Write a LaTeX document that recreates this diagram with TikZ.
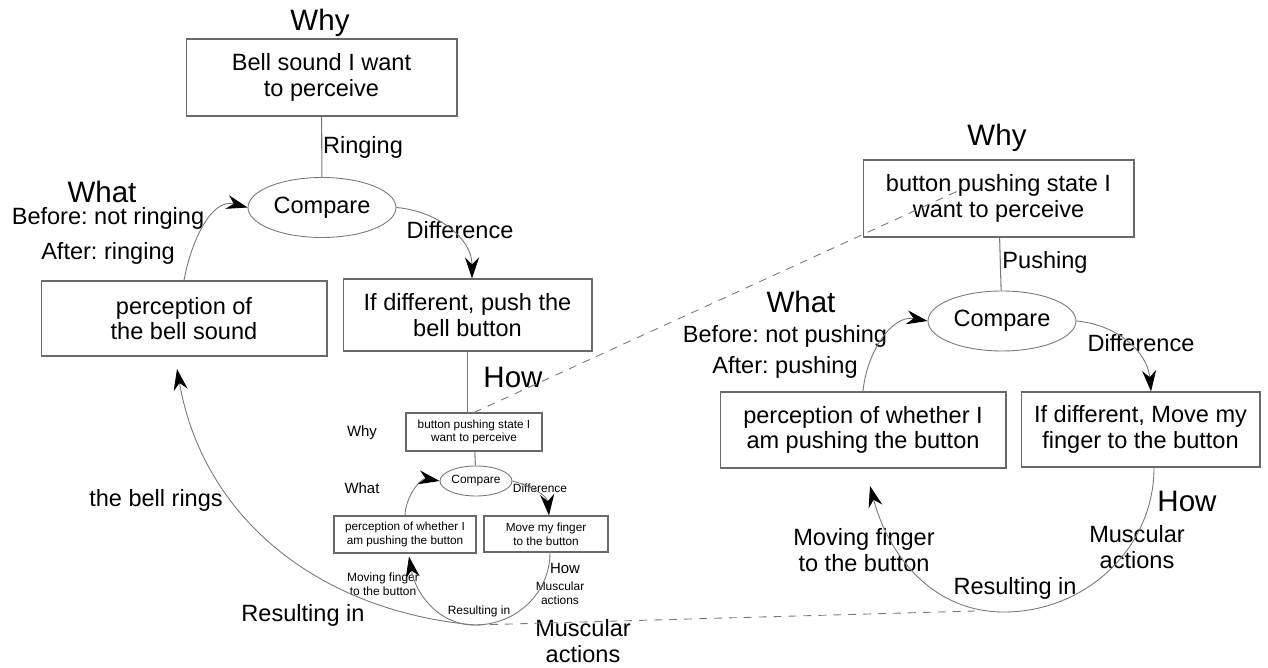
\documentclass[tikz,border=0pt]{standalone}
\usepackage{fontspec}
\setmainfont{Liberation Sans}
\usepackage{xcolor}
\usepackage{tikz}
\usetikzlibrary{shapes.geometric, arrows.meta, positioning, calc}
\frenchspacing
\definecolor{lineGray}{RGB}{120, 120, 120}
\definecolor{boxGray}{RGB}{105, 105, 105}
\tikzset{
  goalbox/.style={
    rectangle, draw=boxGray, line width=0.6pt,
    minimum width=5.42cm, minimum height=1.54cm,
    inner sep=0pt, align=center,
    font=\fontsize{13.4}{14.5}\selectfont
  },
  cmpnode/.style={
    ellipse, draw=lineGray, line width=0.5pt,
    minimum width=2.96cm, minimum height=1.2cm,
    inner sep=0pt, font=\fontsize{13.4}{14.5}\selectfont
  },
  minibox/.style={
    rectangle, draw=boxGray, line width=0.6pt,
    inner sep=0pt, align=center,
    font=\fontsize{6.7}{7.9}\selectfont
  },
  minicmp/.style={
    ellipse, draw=lineGray, line width=0.5pt,
    minimum width=1.44cm, minimum height=0.6cm,
    inner sep=0pt, font=\fontsize{6.8}{8}\selectfont
  },
  biglbl/.style={inner sep=0pt, font=\fontsize{16.8}{18}\selectfont},
  lbl/.style={inner sep=0pt, align=center, font=\fontsize{13.4}{14.8}\selectfont},
  minilbl/.style={inner sep=0pt, font=\fontsize{8.5}{9}\selectfont},
  tinylbl/.style={inner sep=0pt, align=center, font=\fontsize{6.8}{7.9}\selectfont},
  plainline/.style={draw=lineGray, line width=0.6pt},
  flow/.style={
    draw=lineGray, line width=0.5pt,
    -{Stealth[length=12pt, width=8pt, color=black]}
  },
  dashlink/.style={draw=lineGray, line width=0.5pt, dash pattern=on 4.5pt off 4pt}
}

\begin{document}
\begin{tikzpicture}[x=0.02cm, y=0.02cm]
  \useasboundingbox (0,0) rectangle (1268,-668);

  \node[goalbox] (lwant) at (321.5,-77.5) {Bell sound I want\\to perceive};
  \node[cmpnode] (lcmp) at (322,-207.5) {Compare};
  \node[goalbox, minimum width=5.72cm, minimum height=1.5cm] (lperc) at (184,-318.5) {perception of\\the bell sound};
  \node[goalbox, minimum width=4.98cm, minimum height=1.44cm] (lpush) at (467.5,-315) {If different, push the\\bell button};
  \coordinate (ltip) at (177,-369);

  \node[biglbl] (lwhy) at (320,-23) {Why};
  \node[lbl] (lring) at (363,-147) {Ringing};
  \node[biglbl] (lwhat) at (102,-192) {What};
  \node[lbl, font=\fontsize{13.4}{19.5}\selectfont] (lstate) at (108,-236) {Before: not ringing\\After: ringing};
  \node[lbl] (ldiff) at (460,-230) {Difference};
  \node[biglbl] (lhow) at (513,-377) {How};
  \node[lbl] (lrings) at (156,-500) {the bell rings};
  \node[lbl] (lresult) at (303,-615) {Resulting in};
  \node[lbl] (lmusc) at (583,-641) {Muscular\\actions};

  \node[minibox, minimum width=2.72cm, minimum height=0.76cm] (swant) at (474,-432) {button pushing state I\\want to perceive};
  \node[minicmp] (scmp) at (476,-481) {Compare};
  \node[minibox, minimum width=2.84cm, minimum height=0.74cm] (sperc) at (405,-534.5) {perception of whether I\\am pushing the button};
  \node[minibox, minimum width=2.48cm, minimum height=0.72cm] (smove) at (546,-534) {Move my finger\\to the button};
  \coordinate (sbot) at (475,-625);

  \node[minilbl] (swhy) at (362,-433) {Why};
  \node[minilbl] (swhat) at (362,-488) {What};
  \node[tinylbl] (sdiff) at (540,-488) {Difference};
  \node[minilbl] (show) at (565,-568) {How};
  \node[tinylbl] (smusc) at (560,-593) {Muscular\\actions};
  \node[tinylbl] (smoving) at (383,-584) {Moving finger\\to the button};
  \node[tinylbl] (sresult) at (479,-611) {Resulting in};

  \node[goalbox] (rwant) at (998.5,-198.5) {button pushing state I\\want to perceive};
  \node[cmpnode] (rcmp) at (1002,-321) {Compare};
  \node[goalbox, minimum width=5.72cm, minimum height=1.52cm] (rperc) at (863,-430) {perception of whether I\\am pushing the button};
  \node[goalbox, minimum width=4.78cm, minimum height=1.5cm] (rmove) at (1140.5,-429.5) {If different, Move my\\finger to the button};
  \coordinate (rbot) at (1004,-612);
  \coordinate (rtip) at (870,-486);
  \coordinate (rcross) at (960,-190);
  \coordinate (rfoot) at (975,-611);

  \node[biglbl] (rwhy) at (997,-138) {Why};
  \node[lbl] (rpush) at (1045,-262) {Pushing};
  \node[biglbl] (rwhat) at (801,-302) {What};
  \node[lbl, font=\fontsize{13.4}{17.5}\selectfont] (rstate) at (785,-352) {Before: not pushing\\After: pushing};
  \node[lbl] (rdiff) at (1141,-343) {Difference};
  \node[biglbl] (rhow) at (1187,-501) {How};
  \node[lbl] (rmusc) at (1137,-547) {Muscular\\actions};
  \node[lbl] (rresult) at (1015,-588) {Resulting in};
  \node[lbl] (rmoving) at (864,-550) {Moving finger\\to the button};

  \draw[plainline] (lwant) -- (lcmp);
  \draw[flow] (lperc.north) to[out=80, in=165] (lcmp.west);
  \draw[flow] (lcmp.east) to[out=-5, in=90] ([xshift=0.09cm]lpush.north);
  \draw[plainline] (lpush.south) -- (lpush.south |- swant.north);

  \draw[plainline] (swant) -- (scmp);
  \draw[flow] (sperc.north) to[out=88, in=170] (scmp.west);
  \draw[flow] (scmp.east) to[out=-15, in=95] ([xshift=0.06cm]smove.north);
  \draw[flow] ([xshift=0.08cm]smove.south) to[out=-90, in=0] (sbot) to[out=180, in=-80] ([xshift=0.08cm, yshift=-0.06cm]sperc.south);
  \draw[flow] (sbot) to[out=175, in=-80] (ltip);

  \draw[plainline] (rwant) -- (rcmp);
  \draw[flow] (rperc.north) to[out=85, in=170] (rcmp.west);
  \draw[flow] (rcmp.east) to[out=-5, in=95] ([xshift=0.21cm]rmove.north);
  \draw[flow] ([xshift=0.27cm]rmove.south) to[out=-90, in=0] (rbot) to[out=180, in=-75] (rtip);

  \draw[dashlink] (swant.north) -- (rcross);
  \draw[dashlink] (sbot) -- (rfoot);
\end{tikzpicture}
\end{document}
